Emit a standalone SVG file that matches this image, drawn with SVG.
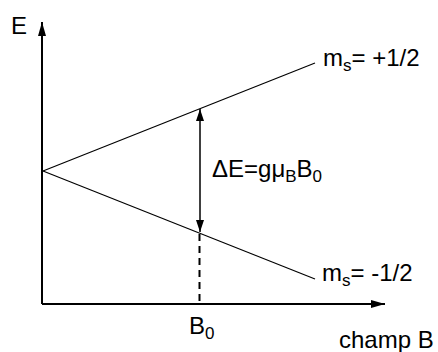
<svg xmlns="http://www.w3.org/2000/svg" width="438" height="352" viewBox="0 0 438 352">
<defs>
<marker id="ah" viewBox="0 0 12 8" refX="12" refY="4" markerWidth="12" markerHeight="8" markerUnits="userSpaceOnUse" orient="auto-start-reverse">
<path d="M0,0 L12,4 L0,8 Z" fill="#000"/>
</marker>
<marker id="ah2" viewBox="0 0 14 8" refX="14" refY="4" markerWidth="14" markerHeight="8" markerUnits="userSpaceOnUse" orient="auto">
<path d="M0,0 L14,4 L0,8 Z" fill="#000"/>
</marker>
</defs>
<style>
text{font-family:"Liberation Sans",Arial,sans-serif;font-size:24px;fill:#000}
.sub{font-size:17px}
.ax{stroke:#000;stroke-width:2;fill:none}
.ln{stroke:#000;stroke-width:1.2;fill:none}
</style>
<rect width="438" height="352" fill="#fff"/>
<g id="connectors">
<line class="ax" x1="42" y1="304" x2="42" y2="22" marker-end="url(#ah2)"/>
<line class="ax" x1="42" y1="304" x2="385" y2="304" marker-end="url(#ah2)"/>
<line class="ln" x1="43" y1="171" x2="315" y2="63"/>
<line class="ln" x1="43" y1="171" x2="315" y2="279"/>
<line stroke="#000" stroke-width="1.5" x1="200" y1="109" x2="200" y2="232" marker-start="url(#ah)" marker-end="url(#ah)"/>
<line stroke="#000" stroke-width="2" stroke-dasharray="7,5" x1="199.5" y1="234" x2="199.5" y2="303"/>
</g>
<g id="label-E"><text x="11" y="34">E</text></g>
<g id="label-up"><text x="323" y="66">m<tspan class="sub" dy="5">s</tspan><tspan dy="-5">= +1/2</tspan></text></g>
<g id="label-down"><text x="322" y="281">m<tspan class="sub" dy="5">s</tspan><tspan dy="-5">= -1/2</tspan></text></g>
<g id="label-dE"><text x="212" y="177">ΔE=gμ<tspan class="sub" dy="5">B</tspan><tspan dy="-5">B</tspan><tspan class="sub" dy="5">0</tspan></text></g>
<g id="label-B0"><text x="189" y="334">B<tspan class="sub" dy="5">0</tspan></text></g>
<g id="label-champ"><text x="339" y="348">champ B</text></g>
</svg>
